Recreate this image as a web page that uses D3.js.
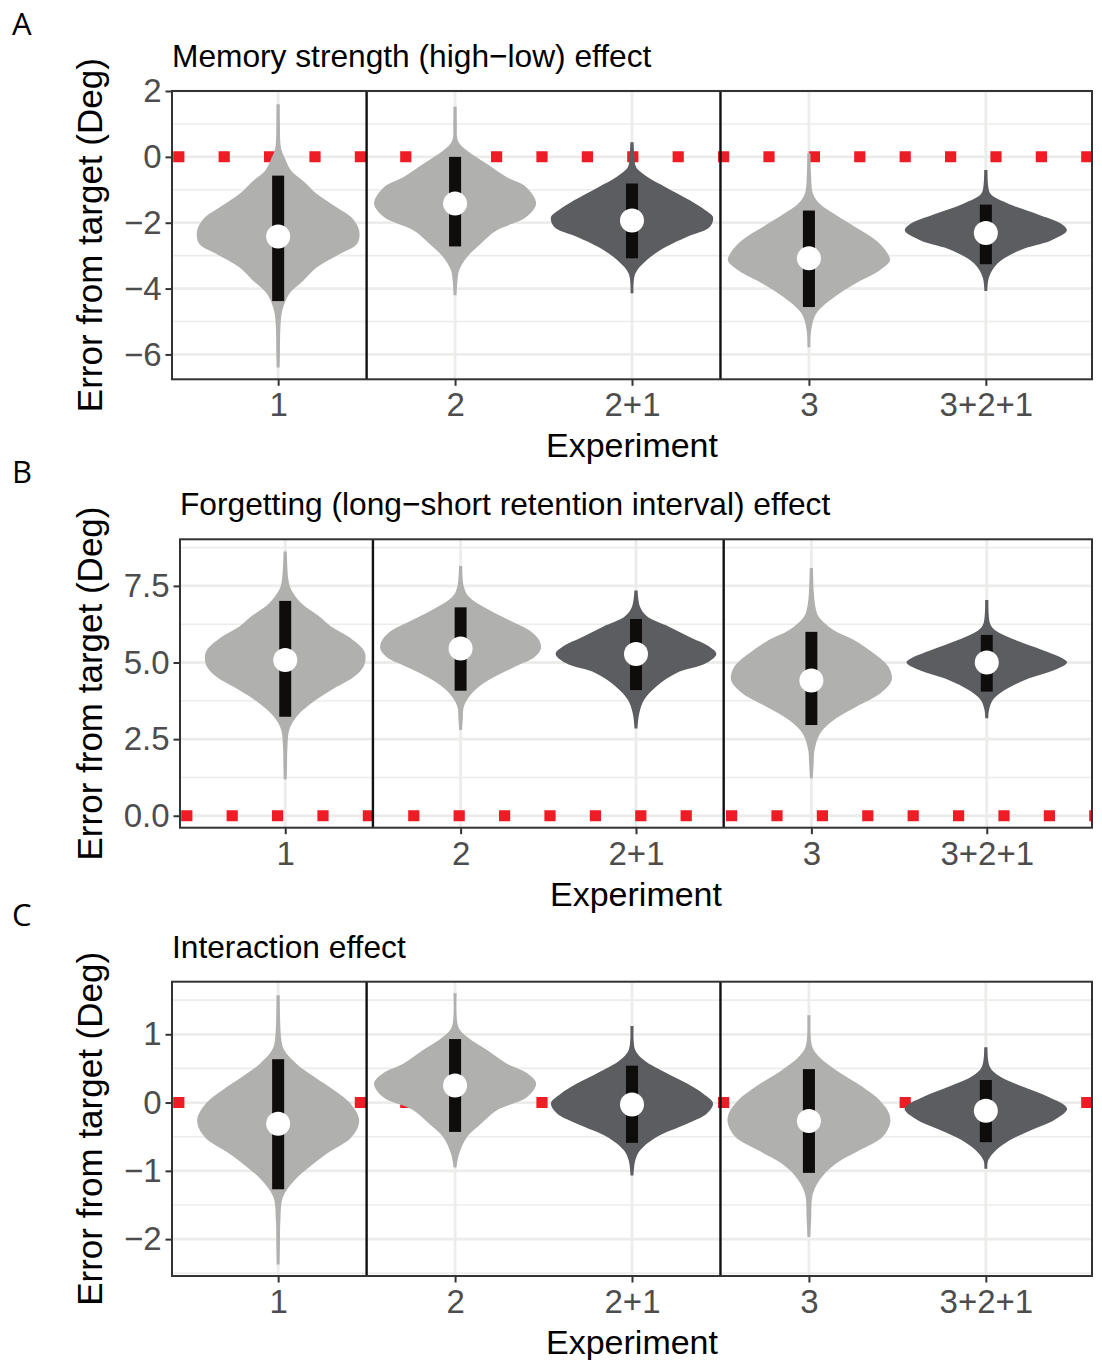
<!DOCTYPE html>
<html>
<head>
<meta charset="utf-8">
<script src="https://cdn.jsdelivr.net/npm/d3@7"></script>
<style>
  body { margin: 0; background: #fff; }
  svg text { font-family: "Liberation Sans", Arial, sans-serif; }
</style>
</head>
<body>
<div id="chart"></div>
<script>
// experiments along the x axis and which violins are the pooled (dark) ones
var categories = ["1", "2", "2+1", "3", "3+2+1"];
var pooled     = [false, false, true, false, true];
var separators = [1.5, 3.5];

// violin profiles: [value, relative density]
var memProfiles = [
  [[1.6,0.02],[1.0,0.022],[0.28,0.035],[0.0,0.075],[-0.42,0.16],[-0.73,0.31],[-1.12,0.475],[-1.54,0.725],[-1.85,0.91],[-2.24,1.0],[-2.64,0.975],[-2.95,0.76],[-3.36,0.475],[-3.76,0.31],[-4.15,0.14],[-4.67,0.05],[-5.2,0.028],[-6.0,0.022],[-6.4,0.018]],
  [[1.52,0.02],[1.0,0.022],[0.49,0.035],[0.19,0.146],[-0.21,0.39],[-0.61,0.634],[-0.92,0.878],[-1.42,1.0],[-1.83,0.878],[-2.24,0.51],[-2.64,0.317],[-3.05,0.146],[-3.45,0.05],[-3.8,0.028],[-4.2,0.018]],
  [[0.44,0.02],[0.0,0.03],[-0.31,0.05],[-0.62,0.195],[-0.92,0.415],[-1.32,0.714],[-1.63,0.91],[-1.83,1.0],[-2.13,0.96],[-2.43,0.675],[-2.74,0.415],[-3.14,0.18],[-3.55,0.04],[-4.14,0.018]],
  [[0.11,0.02],[-0.5,0.025],[-1.12,0.05],[-1.42,0.13],[-1.73,0.31],[-2.13,0.57],[-2.54,0.83],[-2.95,0.975],[-3.15,1.0],[-3.45,0.87],[-3.85,0.57],[-4.26,0.31],[-4.76,0.09],[-5.27,0.028],[-5.78,0.018]],
  [[-0.4,0.02],[-0.9,0.03],[-1.13,0.06],[-1.43,0.285],[-1.74,0.636],[-2.04,0.935],[-2.24,1.0],[-2.54,0.805],[-2.84,0.415],[-3.24,0.143],[-3.65,0.04],[-4.07,0.018]]
];
var memBarLo = [-4.38, -2.72, -3.08, -4.56, -3.26];
var memBarHi = [-0.57, 0.0, -0.81, -1.63, -1.45];
var memMid   = [-2.42, -1.42, -1.93, -3.08, -2.31];

var forgProfiles = [
  [[8.62,0.02],[7.7,0.04],[7.37,0.075],[6.93,0.2],[6.5,0.425],[6.17,0.575],[5.84,0.79],[5.41,0.975],[5.19,1.0],[4.86,0.975],[4.54,0.86],[4.1,0.575],[3.67,0.325],[3.23,0.14],[2.8,0.05],[2.25,0.028],[1.6,0.022],[1.19,0.018]],
  [[8.15,0.02],[7.48,0.04],[7.15,0.1],[6.72,0.35],[6.39,0.6],[6.06,0.85],[5.74,0.975],[5.46,1.0],[5.19,0.925],[4.86,0.675],[4.43,0.35],[4.0,0.14],[3.56,0.04],[3.2,0.028],[2.8,0.018]],
  [[7.35,0.02],[6.82,0.05],[6.5,0.14],[6.17,0.41],[5.84,0.66],[5.52,0.91],[5.28,1.0],[4.98,0.875],[4.65,0.5],[4.21,0.25],[3.78,0.1],[3.34,0.04],[2.85,0.018]],
  [[8.08,0.02],[7.3,0.03],[6.82,0.05],[6.5,0.09],[6.06,0.275],[5.74,0.525],[5.3,0.775],[4.86,0.96],[4.43,1.0],[4.0,0.86],[3.56,0.56],[3.12,0.275],[2.69,0.11],[2.15,0.04],[1.7,0.028],[1.22,0.018]],
  [[7.04,0.02],[6.28,0.04],[6.06,0.1],[5.74,0.35],[5.41,0.69],[5.14,0.94],[5.0,1.0],[4.76,0.85],[4.43,0.475],[4.1,0.225],[3.78,0.075],[3.45,0.028],[3.18,0.018]]
];
var forgBarLo = [3.23, 4.08, 4.1, 2.96, 4.05];
var forgBarHi = [7.01, 6.8, 6.42, 6.0, 5.9];
var forgMid   = [5.08, 5.46, 5.28, 4.41, 5.0];

var interProfiles = [
  [[1.57,0.02],[0.91,0.04],[0.77,0.075],[0.57,0.225],[0.38,0.44],[0.18,0.69],[-0.01,0.89],[-0.26,1.0],[-0.5,0.91],[-0.75,0.6],[-0.94,0.39],[-1.14,0.2],[-1.38,0.06],[-1.72,0.028],[-2.1,0.022],[-2.37,0.018]],
  [[1.6,0.02],[1.11,0.04],[0.96,0.15],[0.77,0.395],[0.57,0.64],[0.43,0.89],[0.28,1.0],[0.08,0.89],[-0.11,0.52],[-0.31,0.32],[-0.5,0.15],[-0.75,0.05],[-0.95,0.018]],
  [[1.12,0.02],[0.77,0.04],[0.62,0.15],[0.43,0.43],[0.28,0.68],[0.13,0.88],[-0.01,1.0],[-0.16,0.925],[-0.31,0.68],[-0.5,0.31],[-0.7,0.1],[-0.85,0.04],[-1.07,0.018]],
  [[1.28,0.02],[0.82,0.04],[0.67,0.125],[0.47,0.34],[0.23,0.66],[0.03,0.875],[-0.16,0.99],[-0.31,1.0],[-0.5,0.91],[-0.7,0.625],[-0.89,0.34],[-1.09,0.16],[-1.33,0.05],[-1.7,0.028],[-1.97,0.018]],
  [[0.81,0.02],[0.52,0.05],[0.38,0.175],[0.23,0.46],[0.08,0.775],[-0.06,0.99],[-0.11,1.0],[-0.26,0.84],[-0.41,0.55],[-0.55,0.3],[-0.7,0.125],[-0.85,0.028],[-0.97,0.018]]
];
var interBarLo = [-1.27, -0.43, -0.59, -1.03, -0.58];
var interBarHi = [0.635, 0.93, 0.54, 0.49, 0.33];
var interMid   = [-0.31, 0.25, -0.03, -0.27, -0.12];

var memTicks   = [-6, -4, -2, 0, 2];
var forgTicks  = [0, 2.5, 5, 7.5];
var interTicks = [-2, -1, 0, 1];
var memTickLabels   = ["\u22126", "\u22124", "\u22122", "0", "2"];
var forgTickLabels  = ["0.0", "2.5", "5.0", "7.5"];
var interTickLabels = ["\u22122", "\u22121", "0", "1"];

var panels = [
  {letter: "A", title: "Memory strength (high\u2212low) effect", profiles: memProfiles, lo: memBarLo, hi: memBarHi, mid: memMid,
   ticks: memTicks, labels: memTickLabels, domain: [-6.755, 2.0], top: 91, bottom: 379.3, left: 172, right: 1092, base: 0},
  {letter: "B", title: "Forgetting (long\u2212short retention interval) effect", profiles: forgProfiles, lo: forgBarLo, hi: forgBarHi, mid: forgMid,
   ticks: forgTicks, labels: forgTickLabels, domain: [-0.39, 9.02], top: 539.3, bottom: 827.7, left: 180, right: 1092, base: 0},
  {letter: "C", title: "Interaction effect", profiles: interProfiles, lo: interBarLo, hi: interBarHi, mid: interMid,
   ticks: interTicks, labels: interTickLabels, domain: [-2.54, 1.77], top: 981.7, bottom: 1276, left: 172, right: 1092, base: 0}
];

var lightFill = '#b0b0af';
var darkFill  = '#5c5d61';
var barColor  = '#0e0d0b';
var red       = '#ee1c25';
var gridColor = '#ececea';

var svg = d3.select('#chart').append('svg')
  .attr('width', 1102)
  .attr('height', 1360);

panels.forEach(drawPanel);

function drawPanel(p){
  var g = svg.append('g');

  var x = d3.scalePoint().domain(categories).range([p.left, p.right]).padding(0.6);
  var y = d3.scaleLinear().domain(p.domain).range([p.bottom, p.top]);
  var step = x.step();
  var w = d3.scaleLinear().domain([0, 1]).range([0, 0.458 * step]);

  // minor breaks: halfway between majors, extended within the domain
  var d = p.ticks[1] - p.ticks[0];
  var minor = [];
  for(var v = p.ticks[0] - d/2; v <= p.domain[1]; v += d){
    if(v >= p.domain[0]){ minor.push(v); }
  }

  g.selectAll('.minor').data(minor).enter().append('line')
    .attr('x1', p.left).attr('x2', p.right)
    .attr('y1', function(v){ return y(v); }).attr('y2', function(v){ return y(v); })
    .attr('stroke', gridColor).attr('stroke-width', 1.6);

  g.selectAll('.major').data(p.ticks).enter().append('line')
    .attr('x1', p.left).attr('x2', p.right)
    .attr('y1', function(v){ return y(v); }).attr('y2', function(v){ return y(v); })
    .attr('stroke', gridColor).attr('stroke-width', 2.8);

  g.selectAll('.vgrid').data(categories).enter().append('line')
    .attr('x1', function(c){ return x(c); }).attr('x2', function(c){ return x(c); })
    .attr('y1', p.top).attr('y2', p.bottom)
    .attr('stroke', gridColor).attr('stroke-width', 2.8);

  // red dotted reference line
  g.append('line')
    .attr('x1', p.left).attr('x2', p.right)
    .attr('y1', y(p.base)).attr('y2', y(p.base))
    .attr('stroke', red).attr('stroke-width', 11)
    .attr('stroke-dasharray', '11.2 34.2')
    .attr('stroke-dashoffset', -1.2);

  // violins
  categories.forEach(function(c, i){
    var cx = x(c);
    var area = d3.area()
      .curve(d3.curveCatmullRom.alpha(0.5))
      .y(function(pt){ return y(pt[0]); })
      .x0(function(pt){ return cx - w(pt[1]); })
      .x1(function(pt){ return cx + w(pt[1]); });
    g.append('path')
      .attr('d', area(p.profiles[i]))
      .attr('fill', pooled[i] ? darkFill : lightFill);
  });

  // interval bars
  var bw = 0.068 * step;
  g.selectAll('.bar').data(categories).enter().append('rect')
    .attr('x', function(c){ return x(c) - bw/2; })
    .attr('width', bw)
    .attr('y', function(c, i){ return y(p.hi[i]); })
    .attr('height', function(c, i){ return y(p.lo[i]) - y(p.hi[i]); })
    .attr('fill', barColor);

  g.selectAll('.dot').data(categories).enter().append('circle')
    .attr('cx', function(c){ return x(c); })
    .attr('cy', function(c, i){ return y(p.mid[i]); })
    .attr('r', 12)
    .attr('fill', '#fff');

  // experiment separators
  var xs = d3.scaleLinear().domain([1, categories.length]).range([x(categories[0]), x(categories[categories.length-1])]);
  g.selectAll('.sep').data(separators).enter().append('line')
    .attr('x1', function(s){ return xs(s); }).attr('x2', function(s){ return xs(s); })
    .attr('y1', p.top).attr('y2', p.bottom)
    .attr('stroke', '#111').attr('stroke-width', 2.4);

  // panel border
  g.append('rect')
    .attr('x', p.left).attr('y', p.top)
    .attr('width', p.right - p.left).attr('height', p.bottom - p.top)
    .attr('fill', 'none').attr('stroke', '#333').attr('stroke-width', 2);

  // y axis
  var yAxis = d3.axisLeft(y).tickValues(p.ticks)
    .tickFormat(function(v, i){ return p.labels[i]; })
    .tickSize(6.5).tickPadding(4);
  var ya = g.append('g').attr('transform', 'translate(' + p.left + ',0)').call(yAxis);
  ya.select('.domain').remove();
  ya.selectAll('.tick line').attr('stroke', '#333').attr('stroke-width', 2);
  ya.selectAll('.tick text').attr('fill', '#4d4d4d')
    .style('font-size', '33px').style('font-family', '"Liberation Sans", Arial, sans-serif');

  // x axis
  var xAxis = d3.axisBottom(x).tickSize(6.5).tickPadding(7);
  var xa = g.append('g').attr('transform', 'translate(0,' + p.bottom + ')').call(xAxis);
  xa.select('.domain').remove();
  xa.selectAll('.tick line').attr('stroke', '#333').attr('stroke-width', 2);
  xa.selectAll('.tick text').attr('fill', '#4d4d4d')
    .style('font-size', '33px').style('font-family', '"Liberation Sans", Arial, sans-serif');

  // titles
  g.append('text')
    .attr('x', p.left).attr('y', p.top - 24)
    .attr('fill', '#000').style('font-size', '31.7px')
    .text(p.title);

  g.append('text')
    .attr('x', (p.left + p.right) / 2).attr('y', p.bottom + 78)
    .attr('text-anchor', 'middle')
    .attr('fill', '#000').style('font-size', '34px')
    .text('Experiment');

  g.append('text')
    .attr('transform', 'translate(102,' + ((p.top + p.bottom) / 2) + ') rotate(-90)')
    .attr('text-anchor', 'middle')
    .attr('fill', '#000').style('font-size', '35px')
    .text('Error from target (Deg)');

  g.append('text')
    .attr('x', 12).attr('y', p.top - 56)
    .attr('fill', '#000')
    .style('font-family', '"Open Sans", sans-serif').style('font-size', '31px')
    .text(p.letter);
}
</script>
</body>
</html>
